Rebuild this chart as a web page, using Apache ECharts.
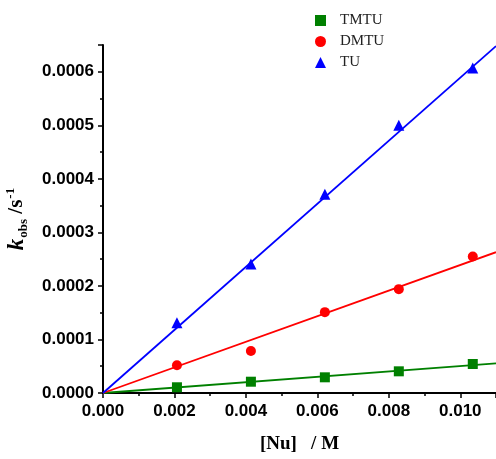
<!DOCTYPE html>
<html>
<head>
<meta charset="utf-8">
<script src="https://cdn.jsdelivr.net/npm/echarts@6/dist/echarts.min.js"></script>
<style>
  html, body { margin: 0; padding: 0; background: #fff; }
  #chart { width: 496px; height: 459px; }
</style>
</head>
<body>
<div id="chart"></div>
<script>
// [Nu] / M
var conc = [0.00207, 0.00414, 0.00621, 0.00828, 0.01035]
// k_obs / s^-1
var tmtu = [0.0000107, 0.0000211, 0.0000293, 0.0000405, 0.0000542]
var dmtu = [0.0000518, 0.0000785, 0.000151, 0.000194, 0.000255]
var tu = [0.000131, 0.000241, 0.000371, 0.000500, 0.000607]
// linear fits through origin: value at x = 0 and x = 0.011
var fitX = [0, 0.011]
var tmtuFit = [0, 0.0000555]
var dmtuFit = [0, 0.000263]
var tuFit = [0, 0.000648]

function pairs(xs, ys) {
  return xs.map(function (x, i) { return [x, ys[i]] })
}

var myChart = echarts.init(document.getElementById('chart'))
var axisColor = '#000'
var option = {
  animation: false,
  grid: {
    left: 103,
    top: 45,
    right: 0,
    bottom: 66,
    outerBoundsMode: 'none'
  },
  legend: {
    data: ['TMTU', 'DMTU', 'TU'],
    orient: 'vertical',
    left: 310,
    top: 8,
    itemWidth: 11,
    itemHeight: 11,
    itemGap: 6,
    textStyle: {
      fontFamily: 'Liberation Serif',
      fontSize: 15,
      color: '#222',
      padding: [0, 0, 0, 9]
    }
  },
  xAxis: {
    type: 'value',
    min: 0,
    max: 0.011,
    interval: 0.002,
    name: '[Nu]   / M',
    nameLocation: 'middle',
    nameGap: 42,
    nameTextStyle: {
      fontFamily: 'Liberation Serif',
      fontWeight: 'bold',
      fontSize: 19,
      color: '#000'
    },
    axisLine: { lineStyle: { color: axisColor, width: 2 } },
    axisTick: { show: true, length: 5, lineStyle: { color: axisColor, width: 1.5 } },
    minorTick: { show: true, splitNumber: 2, length: 3, lineStyle: { color: axisColor, width: 1.5 } },
    splitLine: { show: false },
    axisLabel: {
      margin: 10,
      showMaxLabel: false,
      fontFamily: 'Liberation Sans',
      fontWeight: 'bold',
      fontSize: 17,
      color: '#000',
      formatter: function (v) { return v.toFixed(3) }
    }
  },
  yAxis: {
    type: 'value',
    min: 0,
    max: 0.00065,
    interval: 0.0001,
    name: '{k|k}{sub|obs}{n| /s}{sup|-1}',
    nameLocation: 'middle',
    nameGap: 73,
    nameTextStyle: {
      rich: {
        k: { fontFamily: 'Liberation Serif', fontStyle: 'italic', fontWeight: 'bold', fontSize: 23, color: '#000', lineHeight: 26 },
        sub: { fontFamily: 'Liberation Serif', fontWeight: 'bold', fontSize: 13, color: '#000', lineHeight: 26, verticalAlign: 'bottom', padding: [0, 0, 0, 1] },
        n: { fontFamily: 'Liberation Serif', fontWeight: 'bold', fontSize: 21, color: '#000', lineHeight: 26 },
        sup: { fontFamily: 'Liberation Serif', fontWeight: 'bold', fontSize: 13, color: '#000', lineHeight: 26, verticalAlign: 'top', padding: [0, 0, 9, 1] }
      }
    },
    axisLine: { show: true, lineStyle: { color: axisColor, width: 2 } },
    axisTick: { show: true, length: 5, lineStyle: { color: axisColor, width: 1.5 } },
    minorTick: { show: true, splitNumber: 2, length: 3, lineStyle: { color: axisColor, width: 1.5 } },
    splitLine: { show: false },
    axisLabel: {
      margin: 9,
      showMaxLabel: false,
      fontFamily: 'Liberation Sans',
      fontWeight: 'bold',
      fontSize: 17,
      color: '#000',
      formatter: function (v) { return v.toFixed(4) }
    }
  },
  series: [
    {
      name: 'TMTU fit',
      type: 'line',
      data: pairs(fitX, tmtuFit),
      showSymbol: false,
      lineStyle: { color: '#008000', width: 1.8 },
      z: 1
    },
    {
      name: 'DMTU fit',
      type: 'line',
      data: pairs(fitX, dmtuFit),
      showSymbol: false,
      lineStyle: { color: '#ff0000', width: 1.8 },
      z: 1
    },
    {
      name: 'TU fit',
      type: 'line',
      data: pairs(fitX, tuFit),
      showSymbol: false,
      lineStyle: { color: '#0000ff', width: 1.8 },
      z: 1
    },
    {
      name: 'TMTU',
      type: 'scatter',
      symbol: 'rect',
      symbolSize: 10,
      itemStyle: { color: '#008000', opacity: 1 },
      data: pairs(conc, tmtu),
      z: 3
    },
    {
      name: 'DMTU',
      type: 'scatter',
      symbol: 'circle',
      symbolSize: 10,
      itemStyle: { color: '#ff0000', opacity: 1 },
      data: pairs(conc, dmtu),
      z: 3
    },
    {
      name: 'TU',
      type: 'scatter',
      symbol: 'triangle',
      symbolSize: 11,
      itemStyle: { color: '#0000ff', opacity: 1 },
      data: pairs(conc, tu),
      z: 3
    }
  ]
}

option && myChart.setOption(option)
</script>
</body>
</html>
